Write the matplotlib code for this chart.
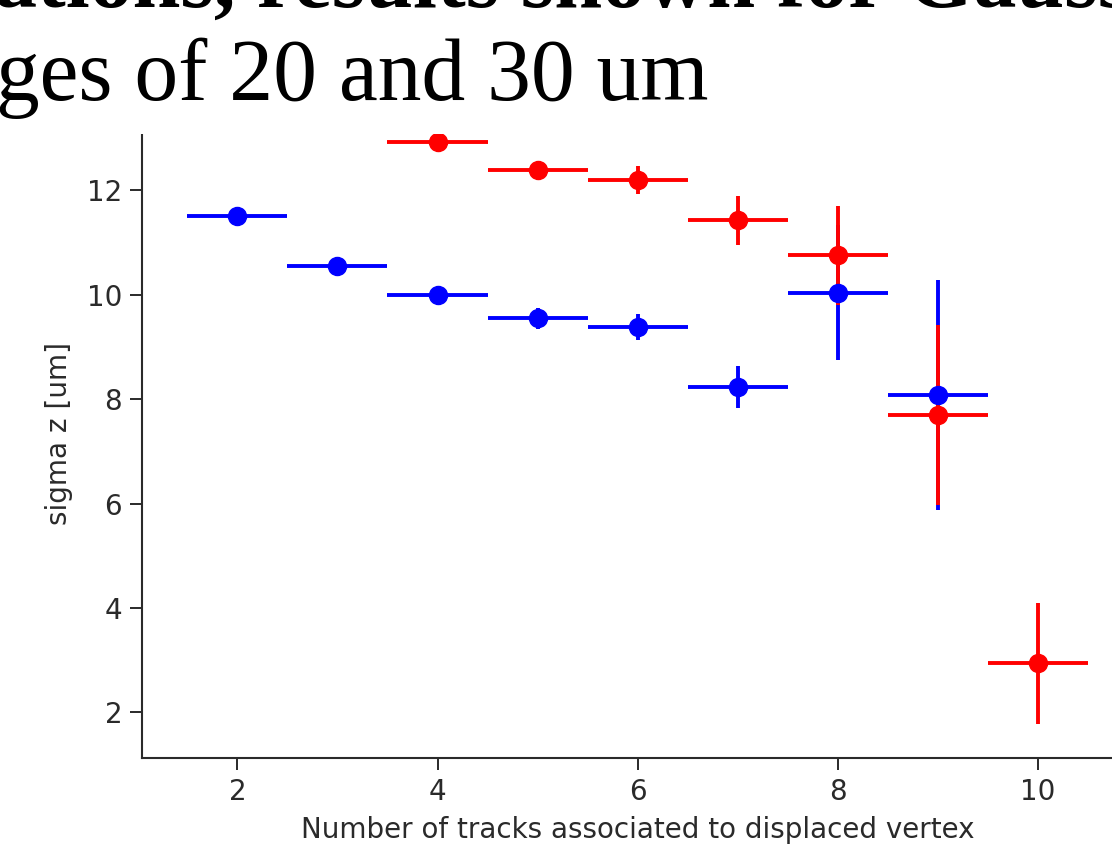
import matplotlib
matplotlib.use("Agg")
import matplotlib.pyplot as plt
from matplotlib.patches import Rectangle

# --- data ---
blue_x = [2, 3, 4, 5, 6, 7, 8, 9]
blue_y = [11.51, 10.55, 10.00, 9.55, 9.39, 8.24, 10.04, 8.08]
blue_yerr = [0.05, 0.06, 0.08, 0.20, 0.25, 0.40, 1.29, 2.20]

red_x = [4, 5, 6, 7, 8, 9, 10]
red_y = [12.93, 12.39, 12.20, 11.43, 10.76, 7.70, 2.94]
red_yerr = [0.05, 0.08, 0.26, 0.47, 0.95, 1.72, 1.16]

bin_half_width = 0.5

x_label = "Number of tracks associated to displaced vertex"
y_label = "sigma z [um]"
slide_line1 = "ations, results shown for Gaussian"
slide_line2 = "ges of 20 and 30 um"

W, H = 1112, 847
fig = plt.figure(figsize=(W / 100, H / 100), dpi=100)
ax = fig.add_axes([142.3 / W, 1 - 757.7 / H, (1133 - 142.3) / W, (757.7 - 109) / H])

common = dict(fmt="o", markersize=13, elinewidth=2.8, capsize=0)
ax.errorbar(blue_x, blue_y, yerr=blue_yerr, xerr=bin_half_width, color="blue", **common)
ax.errorbar(red_x, red_y, yerr=red_yerr, xerr=bin_half_width, color="red", **common)

ax.set_xlim(1.05, 10.95)
ax.set_ylim(1.13, 13.56)
ax.set_xticks([2, 4, 6, 8, 10])
ax.set_yticks([2, 4, 6, 8, 10, 12])

fs = 20
txt_color = "#2a2a2a"
ax.tick_params(labelsize=fs, length=8.5, width=1.4, colors=txt_color, pad=6)
for s in ax.spines.values():
    s.set_linewidth(1.5)
    s.set_color(txt_color)
ax.set_xlabel(x_label, fontsize=fs, color=txt_color, labelpad=7)
ax.set_ylabel(y_label, fontsize=fs, color=txt_color, labelpad=10)

# white slide text area covering the top of the chart
fig.patches.append(Rectangle((0, 1 - 134 / H), 1, 134 / H, transform=fig.transFigure,
                             facecolor="white", edgecolor="none", zorder=10))

serif = ["Liberation Serif", "DejaVu Serif"]
fig.text(-6 / W, 1 - 7 / H, slide_line1, fontsize=62, family=serif, color="black",
         weight="bold", ha="left", va="baseline", zorder=11)
fig.text(-4 / W, 1 - 100 / H, slide_line2, fontsize=63, family=serif, color="black",
         ha="left", va="baseline", zorder=11)

fig.savefig("out.png", dpi=100)
